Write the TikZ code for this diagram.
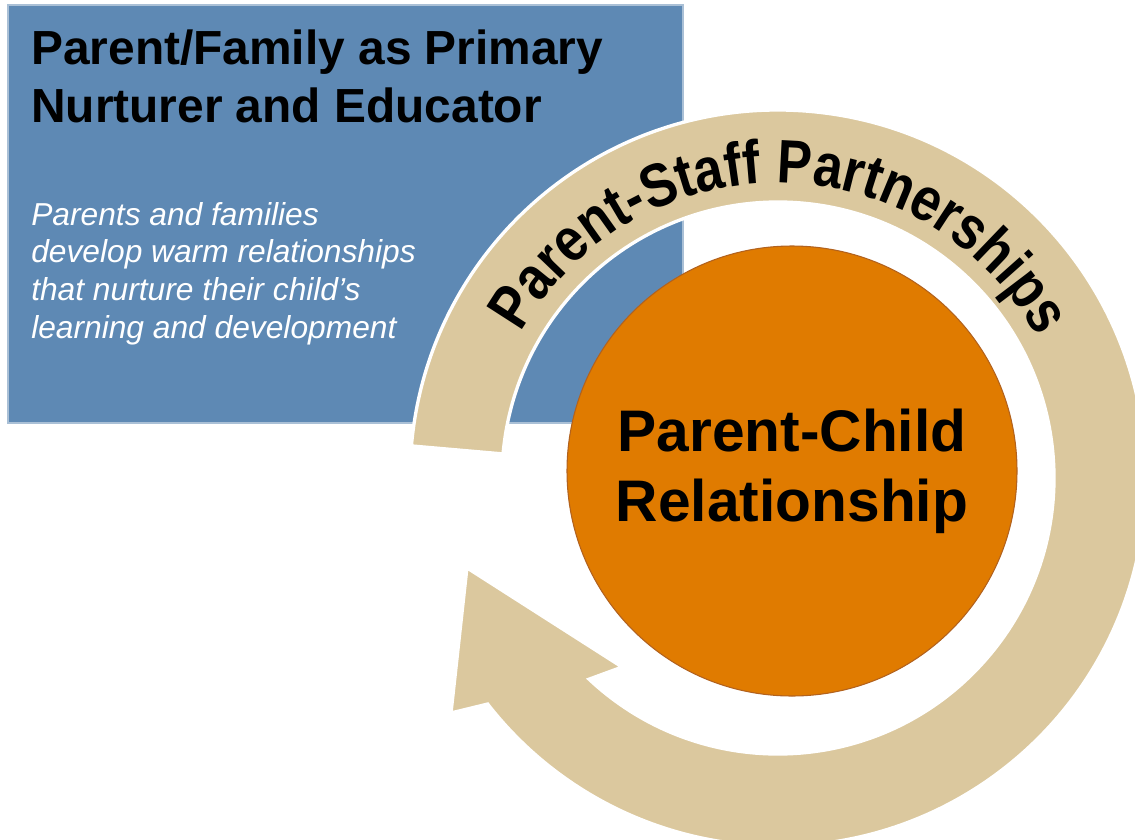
\documentclass[tikz,border=0pt]{standalone}
\usepackage{fontspec}
\setmainfont{Liberation Sans}
\newfontfamily\arcfamily[FakeStretch=0.85]{Liberation Sans}
\usepackage{tikz}
\usetikzlibrary{decorations.text}

\definecolor{famblue}{RGB}{94,137,180}
\definecolor{boxedge}{RGB}{170,192,214}
\definecolor{ringtan}{RGB}{219,200,158}
\definecolor{childorange}{RGB}{224,123,0}
\definecolor{childedge}{RGB}{178,98,30}

\newcommand{\arcfont}{\arcfamily\bfseries\fontsize{46}{46}\selectfont}

\begin{document}
\begin{tikzpicture}[x=0.75pt,y=0.75pt,yscale=-1,xscale=1,
    famrect/.style={fill=famblue,draw=boxedge,line width=0.8pt},
    headtext/.style={anchor=north west,inner sep=0pt,align=left,text=black,
      font=\fontsize{35.9}{43.5}\selectfont\bfseries},
    bodytext/.style={anchor=north west,inner sep=0pt,align=left,text=white,
      font=\fontsize{23.8}{28.3}\selectfont\itshape},
    ringarrow/.style={fill=ringtan,draw=white,line width=2.5pt,line join=miter},
    childcircle/.style={circle,fill=childorange,draw=childedge,line width=0.8pt,
      minimum size=337.5pt,inner sep=0pt,align=center,
      font=\fontsize{44}{52.5}\selectfont\bfseries}]
        \clip (0,0) rectangle (1135,839);
        % family box
        \path[famrect] (8,5) rectangle (683,423);
        \node[headtext] (title) at (31,30) {Parent/Family as Primary\\Nurturer and Educator};
        \node[bodytext] (body) at (31,202) {Parents and families\\develop warm relationships\\that nurture their child’s\\learning and development};
        % circular arrow, centred on the ring
        \begin{scope}[shift={(778,478)},yscale=-1]
            \path[ringarrow] (175:368) arc[start angle=175,end angle=-142.1,radius=368]
                -- (215.7:402.7) -- (196.1:323.8) -- (230.5:245) -- (-133.2:276)
                arc[start angle=-133.2,end angle=175,radius=276] -- cycle;
            \path[decorate,decoration={text along path,text align=center,
                text={|\arcfont|Parent-Staff Partnerships}}]
                (152:295) arc[start angle=152,end angle=27,radius=295];
        \end{scope}
        % parent-child circle
        \node[childcircle] (child) at (792,471) {Parent-Child\\Relationship};
    \end{tikzpicture}
\end{document}
